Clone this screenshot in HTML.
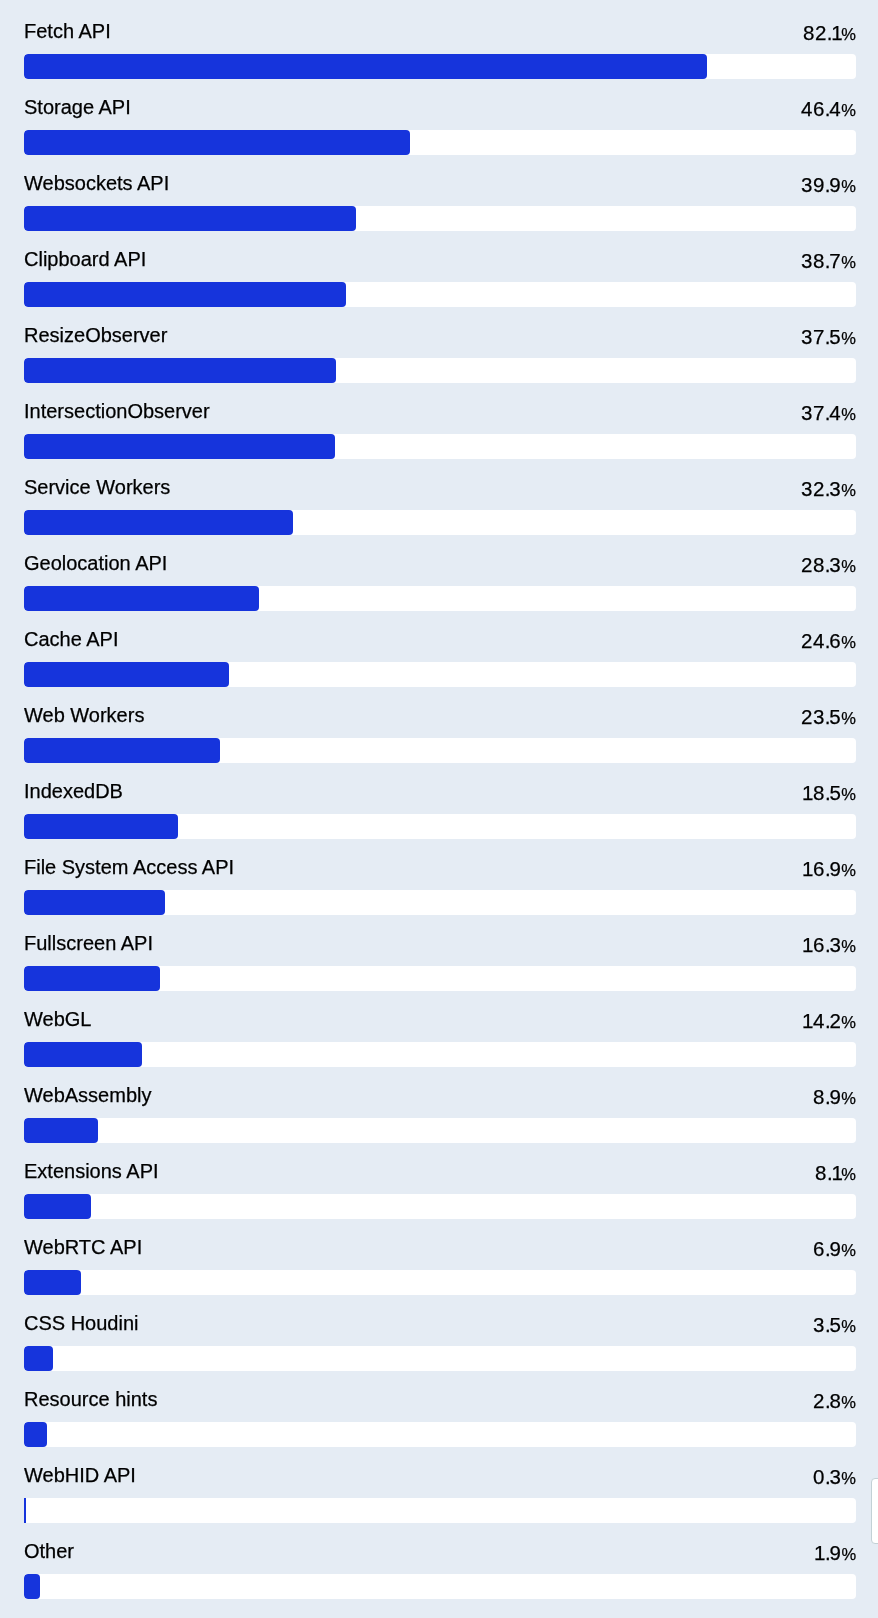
<!DOCTYPE html><html><head><meta charset="utf-8"><style>
*{margin:0;padding:0;box-sizing:border-box}
html,body{width:878px;height:1618px;overflow:hidden;background:#e5ecf4;}
body{position:relative;-webkit-font-smoothing:antialiased;-webkit-text-stroke:0.25px #000;font-family:"Liberation Sans",sans-serif;color:#000;}
.l{will-change:transform;position:absolute;left:24px;font-size:20px;line-height:20px;white-space:nowrap;}
.v{will-change:transform;position:absolute;right:22px;font-size:20.5px;line-height:20px;white-space:nowrap;text-align:right;}
.v span{font-size:16.5px;letter-spacing:0}
.v{letter-spacing:0.5px}
.v i{font-style:normal;letter-spacing:-1.2px}
.v u{text-decoration:none;letter-spacing:-1.6px}
.v b{font-weight:normal;letter-spacing:-0.4px}
.t{position:absolute;left:24px;width:832px;height:25px;background:#fff;border-radius:4px;overflow:hidden;}
.b{position:absolute;left:0;top:0;height:100%;background:#1634dc;border-radius:4px;}
.side{position:absolute;left:871px;top:1478px;width:20px;height:66px;background:#fff;border:1px solid #c3d1d6;border-radius:4px;}
</style></head><body>
<div class="l" style="top:21px">Fetch API</div>
<div class="v" style="top:23px">82<i>.</i><u>1</u><span>%</span></div>
<div class="t" style="top:54px"><div class="b" style="width:683.07px"></div></div>
<div class="l" style="top:97px">Storage API</div>
<div class="v" style="top:99px">46<i>.</i>4<span>%</span></div>
<div class="t" style="top:130px"><div class="b" style="width:386.05px"></div></div>
<div class="l" style="top:173px">Websockets API</div>
<div class="v" style="top:175px">39<i>.</i>9<span>%</span></div>
<div class="t" style="top:206px"><div class="b" style="width:331.97px"></div></div>
<div class="l" style="top:249px">Clipboard API</div>
<div class="v" style="top:251px">38<i>.</i>7<span>%</span></div>
<div class="t" style="top:282px"><div class="b" style="width:321.98px"></div></div>
<div class="l" style="top:325px">ResizeObserver</div>
<div class="v" style="top:327px">37<i>.</i>5<span>%</span></div>
<div class="t" style="top:358px"><div class="b" style="width:312.00px"></div></div>
<div class="l" style="top:401px">IntersectionObserver</div>
<div class="v" style="top:403px">37<i>.</i>4<span>%</span></div>
<div class="t" style="top:434px"><div class="b" style="width:311.17px"></div></div>
<div class="l" style="top:477px">Service Workers</div>
<div class="v" style="top:479px">32<i>.</i>3<span>%</span></div>
<div class="t" style="top:510px"><div class="b" style="width:268.74px"></div></div>
<div class="l" style="top:553px">Geolocation API</div>
<div class="v" style="top:555px">28<i>.</i>3<span>%</span></div>
<div class="t" style="top:586px"><div class="b" style="width:235.46px"></div></div>
<div class="l" style="top:629px">Cache API</div>
<div class="v" style="top:631px">24<i>.</i>6<span>%</span></div>
<div class="t" style="top:662px"><div class="b" style="width:204.67px"></div></div>
<div class="l" style="top:705px">Web Workers</div>
<div class="v" style="top:707px">23<i>.</i>5<span>%</span></div>
<div class="t" style="top:738px"><div class="b" style="width:195.52px"></div></div>
<div class="l" style="top:781px">IndexedDB</div>
<div class="v" style="top:783px"><b>1</b>8<i>.</i>5<span>%</span></div>
<div class="t" style="top:814px"><div class="b" style="width:153.92px"></div></div>
<div class="l" style="top:857px">File System Access API</div>
<div class="v" style="top:859px"><b>1</b>6<i>.</i>9<span>%</span></div>
<div class="t" style="top:890px"><div class="b" style="width:140.61px"></div></div>
<div class="l" style="top:933px">Fullscreen API</div>
<div class="v" style="top:935px"><b>1</b>6<i>.</i>3<span>%</span></div>
<div class="t" style="top:966px"><div class="b" style="width:135.62px"></div></div>
<div class="l" style="top:1009px">WebGL</div>
<div class="v" style="top:1011px"><b>1</b>4<i>.</i>2<span>%</span></div>
<div class="t" style="top:1042px"><div class="b" style="width:118.14px"></div></div>
<div class="l" style="top:1085px">WebAssembly</div>
<div class="v" style="top:1087px">8<i>.</i>9<span>%</span></div>
<div class="t" style="top:1118px"><div class="b" style="width:74.05px"></div></div>
<div class="l" style="top:1161px">Extensions API</div>
<div class="v" style="top:1163px">8<i>.</i><u>1</u><span>%</span></div>
<div class="t" style="top:1194px"><div class="b" style="width:67.39px"></div></div>
<div class="l" style="top:1237px">WebRTC API</div>
<div class="v" style="top:1239px">6<i>.</i>9<span>%</span></div>
<div class="t" style="top:1270px"><div class="b" style="width:57.41px"></div></div>
<div class="l" style="top:1313px">CSS Houdini</div>
<div class="v" style="top:1315px">3<i>.</i>5<span>%</span></div>
<div class="t" style="top:1346px"><div class="b" style="width:29.12px"></div></div>
<div class="l" style="top:1389px">Resource hints</div>
<div class="v" style="top:1391px">2<i>.</i>8<span>%</span></div>
<div class="t" style="top:1422px"><div class="b" style="width:23.30px"></div></div>
<div class="l" style="top:1465px">WebHID API</div>
<div class="v" style="top:1467px">0<i>.</i>3<span>%</span></div>
<div class="t" style="top:1498px;border-top-left-radius:0;border-bottom-left-radius:0"><div class="b" style="width:2px;border-radius:0"></div></div>
<div class="l" style="top:1541px">Other</div>
<div class="v" style="top:1543px"><b>1</b><i>.</i>9<span>%</span></div>
<div class="t" style="top:1574px"><div class="b" style="width:15.81px"></div></div>
<div class="side"></div>
</body></html>
